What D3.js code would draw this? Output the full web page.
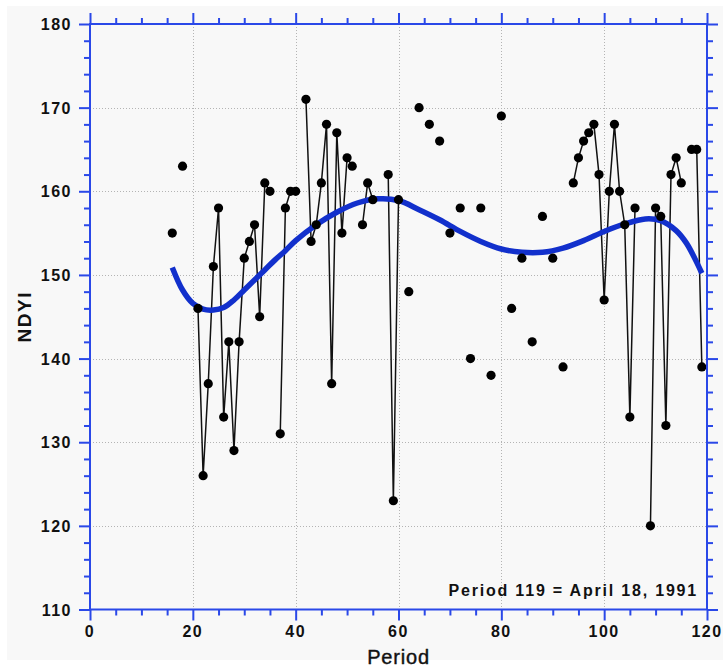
<!DOCTYPE html>
<html>
<head>
<meta charset="utf-8">
<script src="https://cdn.jsdelivr.net/npm/d3@7"></script>
<style>
  html, body { margin: 0; padding: 0; background: #ffffff; }
  svg { display: block; }
  text { font-family: "Liberation Sans", Arial, sans-serif; }
</style>
</head>
<body>
<svg id="chart" width="723" height="670"></svg>
<script>
// Observed NDYI by period (periods with no observation are simply absent)
const periods = [16, 18, 21, 22, 23, 24, 25, 26, 27, 28, 29, 30, 31, 32, 33, 34, 35,
  37, 38, 39, 40, 42, 43, 44, 45, 46, 47, 48, 49, 50, 51, 53, 54, 55, 58, 59, 60,
  62, 64, 66, 68, 70, 72, 74, 76, 78, 80, 82, 84, 86, 88, 90, 92,
  94, 95, 96, 97, 98, 99, 100, 101, 102, 103, 104, 105, 106,
  109, 110, 111, 112, 113, 114, 115, 117, 118, 119];
const ndyi = [155, 163, 146, 126, 137, 151, 158, 133, 142, 129, 142, 152, 154, 156, 145, 161, 160,
  131, 158, 160, 160, 171, 154, 156, 161, 168, 137, 167, 155, 164, 163, 156, 161, 159, 162, 123, 159,
  148, 170, 168, 166, 155, 158, 140, 158, 138, 169, 146, 152, 142, 157, 152, 139,
  161, 164, 166, 167, 168, 162, 147, 160, 168, 160, 156, 133, 158,
  120, 158, 157, 132, 162, 164, 161, 165, 165, 139];

// Fitted trend curve, sampled along the period axis
const trendPeriods = [16, 18, 20, 22, 24, 26, 28, 30, 32, 34, 36, 38, 40, 44, 48, 52, 56, 60,
  64, 68, 72, 76, 80, 84, 88, 92, 96, 100, 104, 108, 111, 114, 116, 118, 119];
const trendValues = [150.9, 148.2, 146.6, 145.9, 145.8, 146.1, 147.0, 148.2, 149.4, 150.6, 151.8,
  152.9, 154.1, 156.0, 157.5, 158.6, 159.1, 158.9, 157.8, 156.6, 155.2, 154.0, 153.1, 152.7,
  152.7, 153.2, 154.1, 155.2, 156.1, 156.7, 156.5, 155.3, 153.8, 151.5, 150.2];

const xMajorTicks = [0, 20, 40, 60, 80, 100, 120];
const yMajorTicks = [110, 120, 130, 140, 150, 160, 170, 180];
const note = "Period 119 = April 18, 1991";

const svg = d3.select("#chart");
const W = 723, H = 670;
const M = { left: 90, right: 707, top: 24, bottom: 609.5 };
const axisBlue = "#2a48e8";
const curveBlue = "#1230cc";

const x = d3.scaleLinear().domain([0, 120]).range([M.left, M.right]);
const y = d3.scaleLinear().domain([110, 180]).range([M.bottom, M.top]);

// panel background
svg.append("rect").attr("x", 0).attr("y", 0).attr("width", W).attr("height", H).attr("fill", "#ffffff");
svg.append("rect").attr("x", 7).attr("y", 6).attr("width", W - 7).attr("height", 654).attr("fill", "#f8f8f8");

// dotted grid at major ticks
const grid = svg.append("g").attr("stroke", "#b4b4b4").attr("stroke-width", 1).attr("stroke-dasharray", "1,2");
xMajorTicks.filter(d => d > 0 && d < 120).forEach(d => {
  grid.append("line").attr("x1", Math.round(x(d)) + 0.5).attr("x2", Math.round(x(d)) + 0.5)
    .attr("y1", M.top).attr("y2", M.bottom);
});
yMajorTicks.filter(d => d > 110 && d < 180).forEach(d => {
  grid.append("line").attr("y1", Math.round(y(d)) + 0.5).attr("y2", Math.round(y(d)) + 0.5)
    .attr("x1", M.left).attr("x2", M.right);
});

// connecting lines, only between consecutive periods
const pts = periods.map((p, i) => ({ p, v: ndyi[i] }));
const runs = [];
let run = [pts[0]];
for (let i = 1; i < pts.length; i++) {
  if (pts[i].p - pts[i - 1].p === 1) run.push(pts[i]);
  else { runs.push(run); run = [pts[i]]; }
}
runs.push(run);
const line = d3.line().x(d => x(d.p)).y(d => y(d.v));
svg.append("g").selectAll("path").data(runs.filter(r => r.length > 1)).join("path")
  .attr("d", line).attr("fill", "none").attr("stroke", "#111").attr("stroke-width", 1.5);

// trend curve
const trend = trendPeriods.map((p, i) => ({ p, v: trendValues[i] }));
svg.append("path").datum(trend)
  .attr("d", d3.line().x(d => x(d.p)).y(d => y(d.v)).curve(d3.curveCatmullRom))
  .attr("fill", "none").attr("stroke", curveBlue).attr("stroke-width", 5.5).attr("stroke-linejoin", "round");

// observation markers
svg.append("g").selectAll("circle").data(pts).join("circle")
  .attr("cx", d => x(d.p)).attr("cy", d => y(d.v)).attr("r", 4.6).attr("fill", "#000");

// frame axes with outward ticks
const axisBottom = d3.axisBottom(x).tickValues(d3.range(0, 121, 5)).tickSize(6).tickFormat("");
const axisTop = d3.axisTop(x).tickValues(d3.range(0, 121, 5)).tickSize(6).tickFormat("");
const axisLeft = d3.axisLeft(y).tickValues(d3.range(110, 181, 2)).tickSize(6).tickFormat("");
const axisRight = d3.axisRight(y).tickValues(d3.range(110, 181, 2)).tickSize(6).tickFormat("");

function styleAxis(g) {
  g.select(".domain").remove();
  g.selectAll("line").attr("stroke", axisBlue).attr("stroke-width", 2);
}
svg.append("g").attr("transform", `translate(0,${M.bottom})`).call(axisBottom).call(styleAxis)
  .selectAll(".tick").filter(d => d % 20 === 0).select("line").attr("y2", 11);
svg.append("g").attr("transform", `translate(0,${M.top})`).call(axisTop).call(styleAxis)
  .selectAll(".tick").filter(d => d % 20 === 0).select("line").attr("y2", -11);
svg.append("g").attr("transform", `translate(${M.left},0)`).call(axisLeft).call(styleAxis)
  .selectAll(".tick").filter(d => d % 10 === 0).select("line").attr("x2", -11);
svg.append("g").attr("transform", `translate(${M.right},0)`).call(axisRight).call(styleAxis)
  .selectAll(".tick").filter(d => d % 10 === 0).select("line").attr("x2", 11);

// frame box
svg.append("rect").attr("x", M.left).attr("y", M.top).attr("width", M.right - M.left).attr("height", M.bottom - M.top)
  .attr("fill", "none").attr("stroke", axisBlue).attr("stroke-width", 2);

// tick labels
svg.append("g").selectAll("text").data(xMajorTicks).join("text")
  .attr("x", d => x(d)).attr("y", 637)
  .attr("text-anchor", "middle").attr("font-size", 16).attr("font-weight", "bold")
  .attr("letter-spacing", 1.5).attr("fill", "#111").text(d => d);
svg.append("g").selectAll("text").data(yMajorTicks).join("text")
  .attr("x", 72).attr("y", d => y(d) + 6)
  .attr("text-anchor", "end").attr("font-size", 16).attr("font-weight", "bold")
  .attr("letter-spacing", 1.5).attr("fill", "#111").text(d => d);

// axis titles
svg.append("text").attr("x", (M.left + M.right) / 2).attr("y", 664)
  .attr("text-anchor", "middle").attr("font-size", 20).attr("letter-spacing", 0.8)
  .attr("stroke", "#111").attr("stroke-width", 0.4)
  .attr("fill", "#111").text("Period");
svg.append("text").attr("transform", `translate(31,${(M.top + M.bottom) / 2}) rotate(-90)`)
  .attr("text-anchor", "middle").attr("font-size", 19).attr("font-weight", "bold")
  .attr("letter-spacing", 1.5).attr("fill", "#111").text("NDYI");

// date note
svg.append("text").attr("x", 698).attr("y", 596)
  .attr("text-anchor", "end").attr("font-size", 16).attr("font-weight", "bold")
  .attr("letter-spacing", 1.8).attr("fill", "#111").text(note);
</script>
</body>
</html>
